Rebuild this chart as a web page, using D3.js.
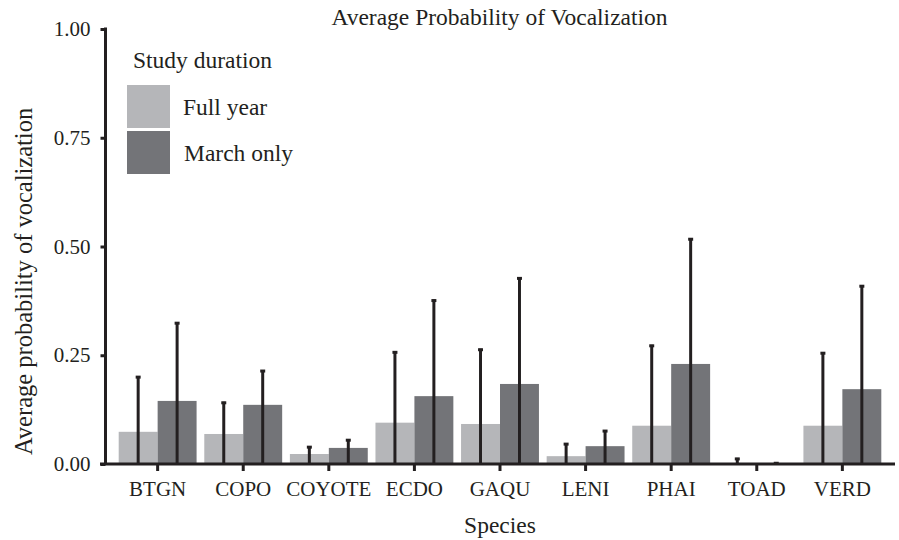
<!DOCTYPE html>
<html>
<head>
<meta charset="utf-8">
<script src="https://cdn.jsdelivr.net/npm/d3@7"></script>
<style>
  body { margin: 0; background: #fff; }
  svg text { font-family: 'Liberation Serif', 'Times New Roman', serif; fill: #231f20; }
</style>
</head>
<body>
<div id="chart"></div>
<script>
// data
const species = ['BTGN', 'COPO', 'COYOTE', 'ECDO', 'GAQU', 'LENI', 'PHAI', 'TOAD', 'VERD'];
const groups = ['Full year', 'March only'];
const fullYear = [0.074, 0.069, 0.023, 0.095, 0.092, 0.018, 0.088, 0.002, 0.088];
const fullYearUpper = [0.202, 0.143, 0.041, 0.259, 0.265, 0.048, 0.274, 0.014, 0.257];
const marchOnly = [0.145, 0.136, 0.037, 0.156, 0.184, 0.041, 0.230, 0.001, 0.172];
const marchOnlyUpper = [0.326, 0.216, 0.057, 0.378, 0.429, 0.078, 0.519, 0.004, 0.411];
const yTicks = [0, 0.25, 0.5, 0.75, 1];

const colors = { 'Full year': '#b5b6b9', 'March only': '#737478' };
const ink = '#231f20';

const width = 899;
const height = 540;

const rows = [];
species.forEach((s, i) => {
  rows.push({ species: s, group: 'Full year', value: fullYear[i], upper: fullYearUpper[i] });
  rows.push({ species: s, group: 'March only', value: marchOnly[i], upper: marchOnlyUpper[i] });
});

const svg = d3.select('#chart')
  .append('svg')
  .attr('width', width)
  .attr('height', height)
  .attr('font-family', "'Liberation Serif', serif");

const x = d3.scaleBand()
  .domain(species)
  .range([105, 895])
  .paddingInner(0.09)
  .paddingOuter(0.16);

const xSub = d3.scaleBand()
  .domain(groups)
  .range([0, x.bandwidth()]);

const y = d3.scaleLinear()
  .domain([0, 1])
  .range([464, 29]);

// bars
svg.append('g')
  .selectAll('rect')
  .data(rows)
  .enter()
  .append('rect')
  .attr('x', d => x(d.species) + xSub(d.group))
  .attr('width', xSub.bandwidth())
  .attr('y', d => y(d.value))
  .attr('height', d => y(0) - y(d.value))
  .attr('fill', d => colors[d.group]);

// error bars (lower end clipped at zero)
const err = svg.append('g')
  .selectAll('g')
  .data(rows)
  .enter()
  .append('g')
  .attr('transform', d => `translate(${x(d.species) + xSub(d.group) + xSub.bandwidth() / 2}, 0)`);

err.append('line')
  .attr('y1', d => y(d.upper))
  .attr('y2', y(0))
  .attr('stroke', ink)
  .attr('stroke-width', 3);

err.append('line')
  .attr('x1', -2.5)
  .attr('x2', 2.5)
  .attr('y1', d => y(d.upper) + 1)
  .attr('y2', d => y(d.upper) + 1)
  .attr('stroke', ink)
  .attr('stroke-width', 3);

// x axis
const xAxis = svg.append('g')
  .attr('transform', `translate(0, ${y(0)})`)
  .call(d3.axisBottom(x).tickSize(7).tickSizeOuter(0).tickPadding(10));
xAxis.select('.domain').remove();
xAxis.selectAll('.tick line').attr('stroke', ink).attr('stroke-width', 3);
xAxis.selectAll('.tick text')
  .attr('font-size', 21)
  .attr('font-family', "'Liberation Serif', serif")
  .attr('fill', ink);
xAxis.append('line')
  .attr('x1', 100)
  .attr('x2', 895)
  .attr('stroke', ink)
  .attr('stroke-width', 3);

// y axis
const yAxis = svg.append('g')
  .attr('transform', 'translate(105.5, 0)')
  .call(d3.axisLeft(y).tickValues(yTicks).tickFormat(d3.format('.2f'))
    .tickSize(5).tickSizeOuter(0).tickPadding(10));
yAxis.select('.domain').remove();
yAxis.selectAll('.tick line').attr('stroke', ink).attr('stroke-width', 3);
yAxis.selectAll('.tick text')
  .attr('font-size', 21)
  .attr('font-family', "'Liberation Serif', serif")
  .attr('fill', ink);
yAxis.append('line')
  .attr('y1', y(1) - 1.5)
  .attr('y2', y(0))
  .attr('stroke', ink)
  .attr('stroke-width', 3);

// titles
svg.append('text')
  .attr('x', 499.5)
  .attr('y', 25)
  .attr('text-anchor', 'middle')
  .attr('font-size', 23.5)
  .text('Average Probability of Vocalization');

svg.append('text')
  .attr('x', 500)
  .attr('y', 533)
  .attr('text-anchor', 'middle')
  .attr('font-size', 23.5)
  .text('Species');

svg.append('text')
  .attr('transform', 'translate(32, 455) rotate(-90)')
  .attr('text-anchor', 'start')
  .attr('font-size', 24.5)
  .text('Average probability of vocalization');

// legend
const legend = svg.append('g').attr('transform', 'translate(127, 0)');
legend.append('text')
  .attr('x', 6)
  .attr('y', 68)
  .attr('font-size', 23.5)
  .text('Study duration');

const items = legend.selectAll('.item')
  .data(groups)
  .enter()
  .append('g')
  .attr('class', 'item')
  .attr('transform', (d, i) => `translate(0, ${85 + i * 46})`);

items.append('rect')
  .attr('width', 43)
  .attr('height', 43)
  .attr('fill', d => colors[d]);

items.append('text')
  .attr('x', (d, i) => 56 + i)
  .attr('y', 30)
  .attr('font-size', 23.5)
  .text(d => d);
</script>
</body>
</html>
